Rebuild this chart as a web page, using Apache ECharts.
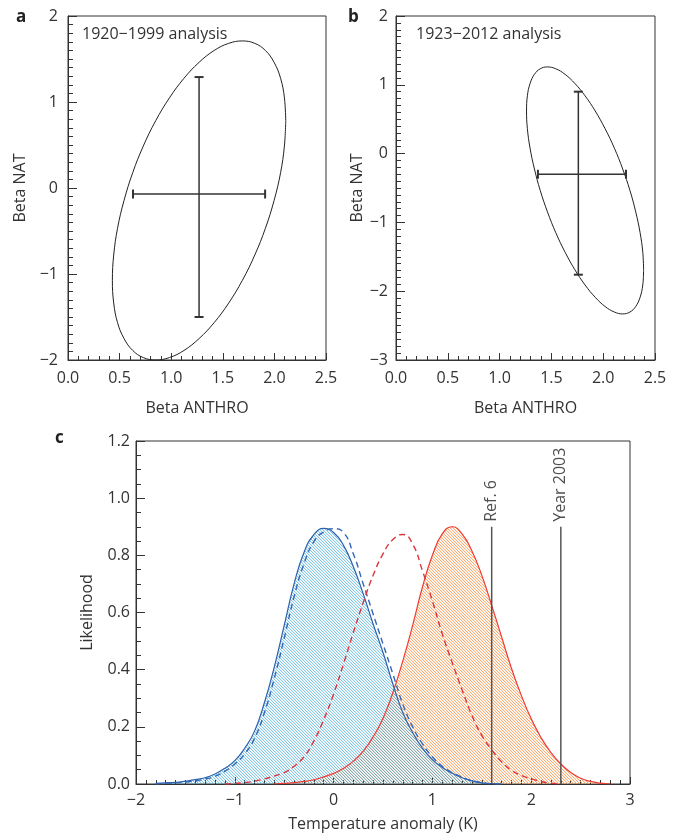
<!DOCTYPE html>
<html>
<head>
<meta charset="utf-8">
<script src="https://cdn.jsdelivr.net/npm/echarts@6/dist/echarts.min.js"></script>
<style>
html, body { margin: 0; padding: 0; background: #fff; }
#chart { width: 680px; height: 835px; }
</style>
</head>
<body>
<div id="chart"></div>
<script>
// panel a: 1920-1999 analysis (points read round the ellipse)
var ellipseA = [
	[2.110, 0.783], [2.097, 1.048], [2.060, 1.276], [1.997, 1.461], [1.913, 1.599], [1.810, 1.682],
	[1.690, 1.710], [1.557, 1.682], [1.416, 1.599], [1.270, 1.461], [1.124, 1.276], [0.983, 1.048],
	[0.850, 0.783], [0.730, 0.489], [0.627, 0.178], [0.543, -0.145], [0.480, -0.468], [0.443, -0.779],
	[0.430, -1.073], [0.443, -1.338], [0.480, -1.566], [0.543, -1.751], [0.627, -1.889], [0.730, -1.972],
	[0.850, -2.000], [0.983, -1.972], [1.124, -1.889], [1.270, -1.751], [1.416, -1.566], [1.557, -1.338],
	[1.690, -1.073], [1.810, -0.779], [1.913, -0.468], [1.997, -0.145], [2.060, 0.178], [2.097, 0.489],
	[2.110, 0.783]
];
var barA_h = [[0.63, -0.07], [1.91, -0.07]];
var barA_v = [[1.27, -1.50], [1.27, 1.29]];

// panel b: 1923-2012 analysis
var ellipseB = [
	[2.390, -1.689], [2.382, -1.433], [2.356, -1.149], [2.314, -0.847], [2.258, -0.535], [2.188, -0.223],
	[2.108, 0.079], [2.018, 0.363], [1.923, 0.619], [1.825, 0.840], [1.727, 1.019], [1.632, 1.152],
	[1.542, 1.233], [1.462, 1.260], [1.392, 1.233], [1.336, 1.152], [1.294, 1.019], [1.268, 0.840],
	[1.260, 0.619], [1.268, 0.363], [1.294, 0.079], [1.336, -0.223], [1.392, -0.535], [1.462, -0.847],
	[1.542, -1.149], [1.632, -1.433], [1.727, -1.689], [1.825, -1.910], [1.923, -2.089], [2.018, -2.222],
	[2.108, -2.303], [2.188, -2.330], [2.258, -2.303], [2.314, -2.222], [2.356, -2.089], [2.382, -1.910],
	[2.390, -1.689]
];
var barB_h = [[1.37, -0.30], [2.22, -0.30]];
var barB_v = [[1.76, -1.76], [1.76, 0.90]];

// panel c: likelihood curves
var temps = [-2.0, -1.9, -1.8, -1.7, -1.6, -1.5, -1.4, -1.3, -1.2, -1.1,
	-1.0, -0.9, -0.8, -0.7, -0.6, -0.5, -0.4, -0.3, -0.2, -0.1,
	0.0, 0.1, 0.2, 0.3, 0.4, 0.5, 0.6, 0.7, 0.8, 0.9,
	1.0, 1.1, 1.2, 1.3, 1.4, 1.5, 1.6, 1.7, 1.8, 1.9,
	2.0, 2.1, 2.2, 2.3, 2.4, 2.5, 2.6, 2.7, 2.8, 2.9, 3.0];
var blueSolid = [null, null, 0.002, 0.004, 0.006, 0.010, 0.015, 0.022, 0.035, 0.055,
	0.082, 0.125, 0.185, 0.285, 0.41, 0.555, 0.70, 0.81, 0.872, 0.894,
	0.88, 0.835, 0.76, 0.665, 0.56, 0.46, 0.35, 0.25, 0.18, 0.125,
	0.085, 0.058, 0.038, 0.022, 0.011, 0.004, 0.001, 0, null, null,
	null, null, null, null, null, null, null, null, null, null, null];
var blueDashed = [null, null, 0, 0.002, 0.004, 0.007, 0.011, 0.017, 0.027, 0.045,
	0.07, 0.105, 0.16, 0.25, 0.37, 0.51, 0.655, 0.77, 0.848, 0.882,
	0.893, 0.88, 0.805, 0.70, 0.595, 0.49, 0.385, 0.28, 0.20, 0.14,
	0.095, 0.062, 0.04, 0.024, 0.012, 0.005, 0.001, 0, null, null,
	null, null, null, null, null, null, null, null, null, null, null];
var redDashed = [null, null, null, null, null, null, null, null, null, 0,
	0.002, 0.005, 0.01, 0.018, 0.028, 0.04, 0.062, 0.095, 0.15, 0.225,
	0.315, 0.42, 0.53, 0.635, 0.73, 0.805, 0.855, 0.873, 0.84, 0.745,
	0.64, 0.525, 0.425, 0.33, 0.24, 0.17, 0.12, 0.078, 0.048, 0.03,
	0.018, 0.009, 0.003, 0, null, null, null, null, null, null, null];
var redSolid = [null, null, null, null, null, null, null, null, null, null,
	null, null, null, null, 0, 0.002, 0.005, 0.009, 0.015, 0.025,
	0.037, 0.055, 0.08, 0.115, 0.165, 0.23, 0.32, 0.43, 0.555, 0.69,
	0.80, 0.875, 0.90, 0.875, 0.815, 0.73, 0.625, 0.515, 0.405, 0.31,
	0.228, 0.162, 0.11, 0.07, 0.04, 0.02, 0.009, 0.003, 0, null, null];
var refX = [1.6, 2.3];
var refTop = [0.9, 0.9];
var refNames = ['Ref. 6', 'Year 2003'];

var FONT = 'Open Sans';
var TXT = '#333';

// diagonal hatch pattern for the filled areas
function hatch(r, g, b, alpha, weak) {
	var c = document.createElement('canvas');
	c.width = 3; c.height = 3;
	var ctx = c.getContext('2d');
	var img = ctx.createImageData(3, 3);
	for (var y = 0; y < 3; y++) {
		for (var x = 0; x < 3; x++) {
			var k = ((x - y) % 3 + 3) % 3;
			var a = 0;
			if (k === 0) a = alpha;
			else if (k === 1) a = weak;
			var i = (y * 3 + x) * 4;
			img.data[i] = r; img.data[i + 1] = g; img.data[i + 2] = b; img.data[i + 3] = a;
		}
	}
	ctx.putImageData(img, 0, 0);
	return { image: c, repeat: 'repeat' };
}

function pairs(xs, ys) {
	var out = [];
	for (var i = 0; i < xs.length; i++) out.push([xs[i], ys[i]]);
	return out;
}

function minus(v) { return String(v).replace('-', '\u2212'); }

function xAx(grid, min, max, interval, minor, name, gap, margin, fmt) {
	return {
		gridIndex: grid, type: 'value', min: min, max: max, interval: interval,
		name: name, nameLocation: 'middle', nameGap: gap,
		nameTextStyle: { fontFamily: FONT, fontSize: 16, color: TXT },
		axisLine: { onZero: false, lineStyle: { color: '#333', width: 1 } },
		axisTick: { inside: true, length: 7, lineStyle: { color: '#333' } },
		minorTick: { show: true, splitNumber: minor, length: 4, lineStyle: { color: '#333' } },
		splitLine: { show: false },
		axisLabel: { fontFamily: FONT, fontSize: 16, color: TXT, margin: margin, showMinLabel: true, showMaxLabel: true, formatter: fmt }
	};
}

function yAx(grid, min, max, interval, minor, name, gap, margin, fmt) {
	return {
		gridIndex: grid, type: 'value', min: min, max: max, interval: interval,
		name: name, nameLocation: 'middle', nameGap: gap,
		nameTextStyle: { fontFamily: FONT, fontSize: 16, color: TXT },
		axisLine: { onZero: false, lineStyle: { color: '#333', width: 1 } },
		axisTick: { inside: true, length: 9, lineStyle: { color: '#333' } },
		minorTick: { show: true, splitNumber: minor, length: 5, lineStyle: { color: '#333' } },
		splitLine: { show: false },
		axisLabel: { fontFamily: FONT, fontSize: 16, color: TXT, margin: margin, showMinLabel: true, showMaxLabel: true, formatter: fmt }
	};
}

function barSeries(grid, data, vertical) {
	return {
		type: 'line', xAxisIndex: grid, yAxisIndex: grid, data: data,
		symbol: 'rect', symbolSize: vertical ? [9, 2] : [2, 9], showSymbol: true,
		itemStyle: { color: '#333' },
		lineStyle: { color: '#333', width: 1.5 }, silent: true
	};
}

function ellipseSeries(grid, data) {
	return { type: 'line', xAxisIndex: grid, yAxisIndex: grid, data: data, smooth: 0.4, showSymbol: false,
		lineStyle: { color: '#222', width: 1 } };
}

var series = [
	ellipseSeries(0, ellipseA),
	barSeries(0, barA_h, false),
	barSeries(0, barA_v, true),
	ellipseSeries(1, ellipseB),
	barSeries(1, barB_h, false),
	barSeries(1, barB_v, true),
	// orange area first, then the translucent blue hatch over it
	{ type: 'line', xAxisIndex: 2, yAxisIndex: 2, data: pairs(temps, redSolid), smooth: true, showSymbol: false,
		lineStyle: { color: '#ee3b33', width: 1.2 }, areaStyle: { color: hatch(247, 163, 98, 225, 55), opacity: 1 } },
	{ type: 'line', xAxisIndex: 2, yAxisIndex: 2, data: pairs(temps, blueSolid), smooth: true, showSymbol: false,
		lineStyle: { color: '#2c62ae', width: 1.2 }, areaStyle: { color: hatch(70, 172, 214, 165, 45), opacity: 1 } },
	{ type: 'line', xAxisIndex: 2, yAxisIndex: 2, data: pairs(temps, blueDashed), smooth: true, showSymbol: false,
		lineStyle: { color: '#3468b8', width: 1.4, type: [6, 4] } },
	{ type: 'line', xAxisIndex: 2, yAxisIndex: 2, data: pairs(temps, redDashed), smooth: true, showSymbol: false,
		lineStyle: { color: '#d9363e', width: 1.4, type: [6, 4] } }
];

for (var i = 0; i < refX.length; i++) {
	series.push({ type: 'line', xAxisIndex: 2, yAxisIndex: 2, data: [[refX[i], 0], [refX[i], refTop[i]]],
		showSymbol: false, lineStyle: { color: '#555', width: 1.5 } });
	series.push({ type: 'scatter', xAxisIndex: 2, yAxisIndex: 2, data: [[refX[i], refTop[i]]], symbolSize: 0,
		label: { show: true, formatter: refNames[i], position: 'top', distance: 5, rotate: 90,
			align: 'left', verticalAlign: 'middle', fontFamily: FONT, fontSize: 16, color: '#222' } });
}

var option = {
	animation: false,
	backgroundColor: '#fff',
	title: [
		{ text: 'a', left: 11, top: 4, textStyle: { fontFamily: FONT, fontSize: 17, fontWeight: 'bold', color: '#222' } },
		{ text: 'b', left: 343, top: 4, textStyle: { fontFamily: FONT, fontSize: 17, fontWeight: 'bold', color: '#222' } },
		{ text: 'c', left: 50, top: 425, textStyle: { fontFamily: FONT, fontSize: 17, fontWeight: 'bold', color: '#222' } },
		{ text: '1920\u22121999 analysis', left: 77, top: 21, textStyle: { fontFamily: FONT, fontSize: 16, fontWeight: 'normal', color: TXT } },
		{ text: '1923\u22122012 analysis', left: 411, top: 21, textStyle: { fontFamily: FONT, fontSize: 16, fontWeight: 'normal', color: TXT } }
	],
	grid: [
		{ left: 68, top: 16, width: 258, height: 344, show: true, borderColor: '#333', borderWidth: 1 },
		{ left: 396, top: 16, width: 259, height: 344, show: true, borderColor: '#333', borderWidth: 1 },
		{ left: 136, top: 441, width: 494, height: 343, show: true, borderColor: '#333', borderWidth: 1 }
	],
	xAxis: [
		xAx(0, 0, 2.5, 0.5, 5, 'Beta ANTHRO', 40, 10, function (v) { return v.toFixed(1); }),
		xAx(1, 0, 2.5, 0.5, 5, 'Beta ANTHRO', 40, 10, function (v) { return v.toFixed(1); }),
		xAx(2, -2, 3, 1, 10, 'Temperature anomaly (K)', 32, 8, minus)
	],
	yAxis: [
		yAx(0, -2, 2, 1, 10, 'Beta NAT', 40, 10, minus),
		yAx(1, -3, 2, 1, 10, 'Beta NAT', 31, 8, minus),
		yAx(2, 0, 1.2, 0.2, 4, 'Likelihood', 41, 6, function (v) { return v.toFixed(1); })
	],
	series: series
};

var myChart = echarts.init(document.getElementById('chart'));
myChart.setOption(option);
</script>
</body>
</html>
